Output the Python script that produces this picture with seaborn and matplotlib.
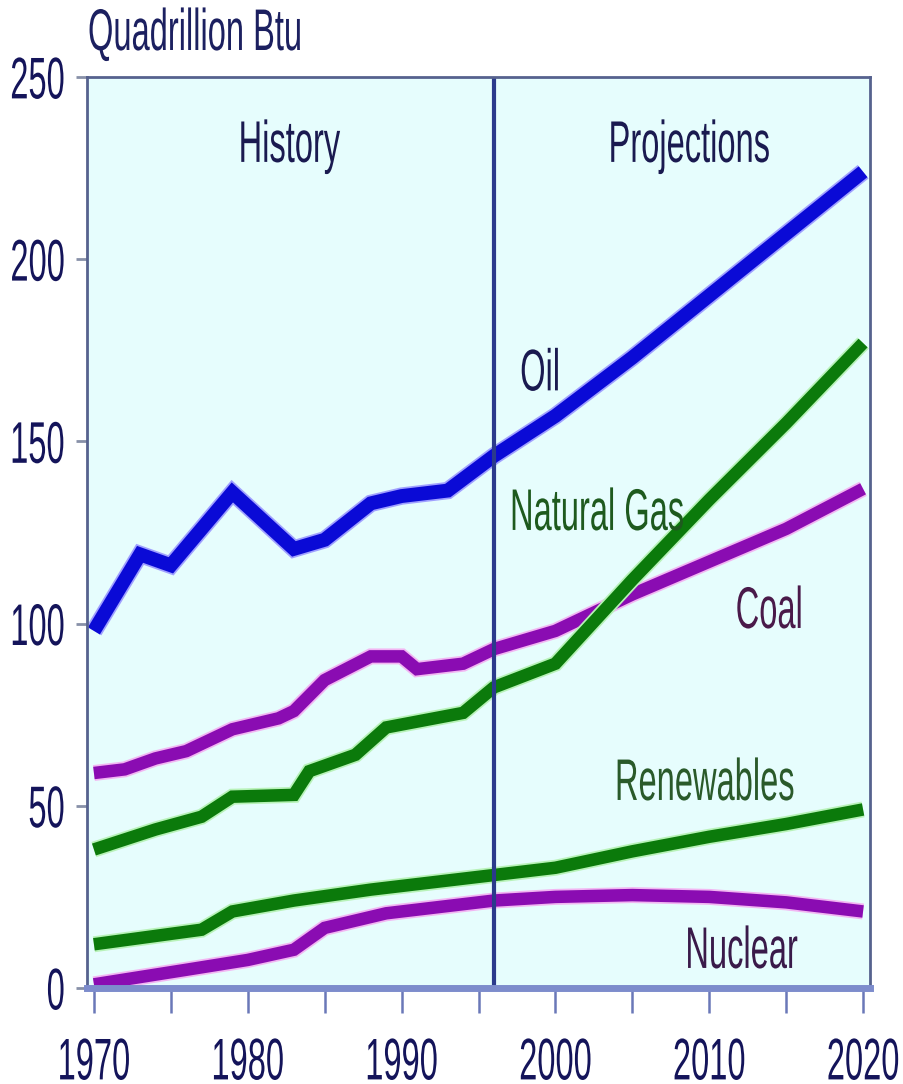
import matplotlib
matplotlib.use('Agg')
import matplotlib.pyplot as plt
from matplotlib.patheffects import AbstractPathEffect, Stroke, Normal
from matplotlib.transforms import Affine2D
from matplotlib.ticker import MultipleLocator
import seaborn as sns
import pandas as pd

# values (quadrillion Btu)
oil_years = [1970, 1973, 1975, 1979, 1983, 1985, 1988, 1990, 1993, 1996, 2000, 2005, 2010, 2015, 2020]
oil_vals = [98, 119, 116, 136, 120.5, 123, 133, 135, 136.5, 146, 157, 173, 190, 207, 224]

coal_years = [1970, 1972, 1974, 1976, 1978, 1979, 1982, 1983, 1985, 1988, 1990, 1991, 1994, 1996,
              2000, 2005, 2010, 2015, 2020]
coal_vals = [59, 60, 63, 65, 69, 71, 74, 76, 84.5, 91, 91, 87.5, 89, 93, 98, 108, 117, 126, 137]

gas_years = [1970, 1974, 1977, 1979, 1983, 1984, 1987, 1989, 1994, 1996, 2000, 2005, 2010, 2015, 2020]
gas_vals = [38, 43.5, 47, 52.5, 53, 59.5, 64, 71.5, 75.5, 82.5, 89, 112, 134, 155, 177]

renew_years = [1970, 1977, 1979, 1983, 1988, 1996, 2000, 2005, 2010, 2015, 2020]
renew_vals = [12, 16, 21, 24, 27, 31, 33, 37.5, 41.5, 45, 49]

nuc_years = [1970, 1976, 1980, 1983, 1985, 1989, 1996, 2000, 2005, 2010, 2015, 2020]
nuc_vals = [1, 5, 7.7, 10.5, 16.5, 20.5, 24, 25, 25.5, 25, 23.5, 21]

labels = ['History', 'Projections', 'Oil', 'Natural Gas', 'Coal', 'Renewables', 'Nuclear']

BLUE = '#0a0ad6'
GREEN = '#0b7a0b'
PURPLE = '#8a0cb2'
FS = 23.5
SY = 1.8


class Stretch(AbstractPathEffect):
    # stretch glyphs vertically around a line in font units (em = 100)
    def __init__(self, sy, anchor=0):
        super().__init__()
        self.sy = sy
        self.anchor = anchor

    def draw_path(self, renderer, gc, tpath, affine, rgbFace=None):
        t = Affine2D().translate(0, -self.anchor).scale(1, self.sy).translate(0, self.anchor)
        renderer.draw_path(gc, tpath, t + affine, rgbFace)


sns.set_theme(style='white')
plt.rcParams['font.family'] = ['Liberation Sans Narrow', 'Liberation Sans', 'DejaVu Sans']

fig = plt.figure(figsize=(9.04, 10.84), dpi=100)
ax = fig.add_axes([87 / 904, 96 / 1084, 783 / 904, 911 / 1084])
ax.set_facecolor('#e6fdfd')

series = [
    (nuc_years, nuc_vals, PURPLE, '#f2b6f2', 9),
    (coal_years, coal_vals, PURPLE, '#f2b6f2', 9),
    (renew_years, renew_vals, GREEN, '#b8f2b8', 9),
    (gas_years, gas_vals, GREEN, '#b8f2b8', 9),
    (oil_years, oil_vals, BLUE, '#a0a0ff', 10),
]
for yrs, vals, col, halo, lw in series:
    df = pd.DataFrame({'year': yrs, 'value': vals})
    sns.lineplot(data=df, x='year', y='value', color=col, linewidth=lw, ax=ax, legend=False,
                 solid_capstyle='butt', solid_joinstyle='miter',
                 path_effects=[Stroke(linewidth=lw + 2.5, foreground=halo), Normal()])

ax.axvline(1996, color='#2b3a8c', lw=3)

ax.set_xlim(1969.55, 2020.45)
ax.set_ylim(0, 250)
ax.set_xlabel('')
ax.set_ylabel('')
ax.xaxis.set_major_locator(MultipleLocator(10))
ax.xaxis.set_minor_locator(MultipleLocator(5))
ax.yaxis.set_major_locator(MultipleLocator(50))
ax.tick_params(axis='x', which='both', direction='out', length=18, width=1.8,
               color='#6a78b8', bottom=True)
ax.tick_params(axis='x', which='major', labelsize=FS, labelcolor='#14145a', pad=17)
ax.tick_params(axis='y', direction='out', length=8, width=2, color='#8890a8',
               labelsize=FS, labelcolor='#14145a', pad=8, left=True)

for s in ['left', 'top', 'right']:
    ax.spines[s].set_color('#56628e')
    ax.spines[s].set_linewidth(2)
ax.spines['bottom'].set_color('#7d8ccc')
ax.spines['bottom'].set_linewidth(5)

txt = dict(fontsize=FS, va='baseline', ha='center')
ax.text(1982.7, 226.7, labels[0], color='#1a1a50', path_effects=[Stretch(SY)], **txt)
ax.text(2008.7, 226.7, labels[1], color='#1a1a50', path_effects=[Stretch(SY)], **txt)
ax.text(1999.0, 164, labels[2], color='#1a1a50', path_effects=[Stretch(SY)], **txt)
ax.text(2002.7, 125.7, labels[3], color='#1e5a1e', path_effects=[Stretch(SY)], **txt)
ax.text(2013.9, 98.8, labels[4], color='#4a1a4a', path_effects=[Stretch(SY)], **txt)
ax.text(2009.7, 51.6, labels[5], color='#2a5a2a', path_effects=[Stretch(SY)], **txt)
ax.text(2012.1, 5.5, labels[6], color='#3a1a4a', path_effects=[Stretch(SY)], **txt)

fig.text(88 / 904, 1 - 50 / 1084, 'Quadrillion Btu', fontsize=FS, color='#1c2060',
         ha='left', va='baseline', path_effects=[Stretch(SY)])

fig.canvas.draw()
for lbl in ax.get_xticklabels():
    lbl.set_path_effects([Stretch(SY, 72)])
for lbl in ax.get_yticklabels():
    lbl.set_path_effects([Stretch(SY, 36)])

fig.savefig('out.png', dpi=100, facecolor='white')
